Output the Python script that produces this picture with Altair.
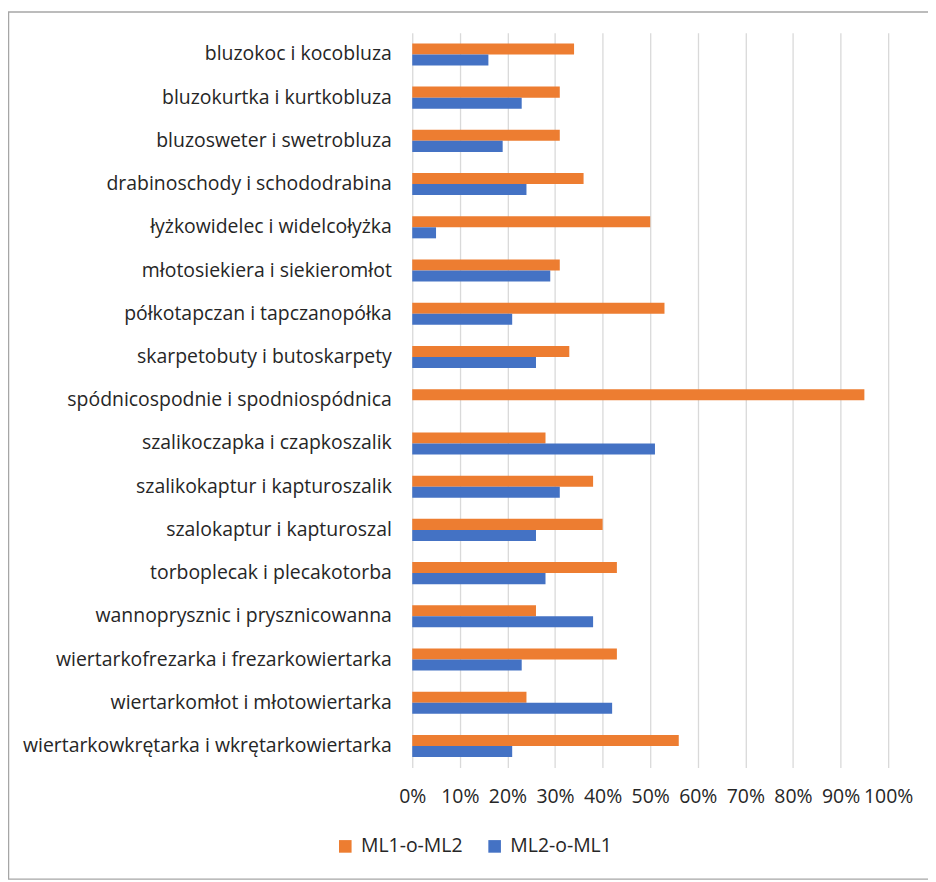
import altair as alt
import pandas as pd

categories = [
    "bluzokoc i kocobluza",
    "bluzokurtka i kurtkobluza",
    "bluzosweter i swetrobluza",
    "drabinoschody i schododrabina",
    "łyżkowidelec i widelcołyżka",
    "młotosiekiera i siekieromłot",
    "półkotapczan i tapczanopółka",
    "skarpetobuty i butoskarpety",
    "spódnicospodnie i spodniospódnica",
    "szalikoczapka i czapkoszalik",
    "szalikokaptur i kapturoszalik",
    "szalokaptur i kapturoszal",
    "torboplecak i plecakotorba",
    "wannoprysznic i prysznicowanna",
    "wiertarkofrezarka i frezarkowiertarka",
    "wiertarkomłot i młotowiertarka",
    "wiertarkowkrętarka i wkrętarkowiertarka",
]
ml1_o_ml2 = [0.34, 0.31, 0.31, 0.36, 0.50, 0.31, 0.53, 0.33, 0.95, 0.28, 0.38, 0.40, 0.43, 0.26, 0.43, 0.24, 0.56]
ml2_o_ml1 = [0.16, 0.23, 0.19, 0.24, 0.05, 0.29, 0.21, 0.26, 0.00, 0.51, 0.31, 0.26, 0.28, 0.38, 0.23, 0.42, 0.21]
series = ["ML1-o-ML2", "ML2-o-ML1"]
colors = ["#ED7D31", "#4472C4"]
tick_values = [i / 10 for i in range(11)]

rows = []
for c, a, b in zip(categories, ml1_o_ml2, ml2_o_ml1):
    rows.append({"cat": c, "series": series[0], "value": a})
    rows.append({"cat": c, "series": series[1], "value": b})
df = pd.DataFrame(rows)

FONT = "Open Sans"
TXT = "#262626"

bars = alt.Chart(df).mark_bar().encode(
    y=alt.Y("cat:N", sort=categories,
            scale=alt.Scale(paddingInner=0.49, paddingOuter=0.245),
            axis=alt.Axis(title=None, ticks=False, domain=False, grid=False,
                          labelFontSize=19.5, labelFont=FONT, labelColor=TXT,
                          labelPadding=21, labelLimit=500)),
    yOffset=alt.YOffset("series:N", sort=series),
    x=alt.X("value:Q", scale=alt.Scale(domain=[0, 1], nice=False),
            axis=alt.Axis(title=None, values=tick_values, format=".0%",
                          ticks=False, domain=False, grid=True,
                          gridColor="#d9d9d9", gridWidth=1.3,
                          labelFontSize=19.5, labelFont=FONT, labelColor=TXT,
                          labelPadding=20, labelFlush=False)),
    color=alt.Color("series:N", sort=series,
                    scale=alt.Scale(domain=series, range=colors),
                    legend=alt.Legend(title=None, orient="none", direction="horizontal",
                                      legendX=-77, legendY=807,
                                      symbolType="square", symbolSize=160,
                                      symbolStrokeWidth=0, labelFontSize=19.5,
                                      labelFont=FONT, labelColor=TXT,
                                      columnPadding=22, labelOffset=6)),
)

border = alt.Chart(pd.DataFrame({"k": [0]})).mark_rect(
    fill=None, stroke="#a6a6a6", strokeWidth=1.5, clip=False
).encode(
    x=alt.value(-405.5), x2=alt.value(560),
    y=alt.value(-21), y2=alt.value(850),
)

chart = alt.layer(border, bars).properties(
    width=478, height=738,
    autosize=alt.AutoSizeParams(type="none"),
    padding={"left": 406, "top": 23, "right": 40, "bottom": 120},
).configure_view(stroke=None)

chart.save("out.html", embed_options={"renderer": "svg", "actions": False})
